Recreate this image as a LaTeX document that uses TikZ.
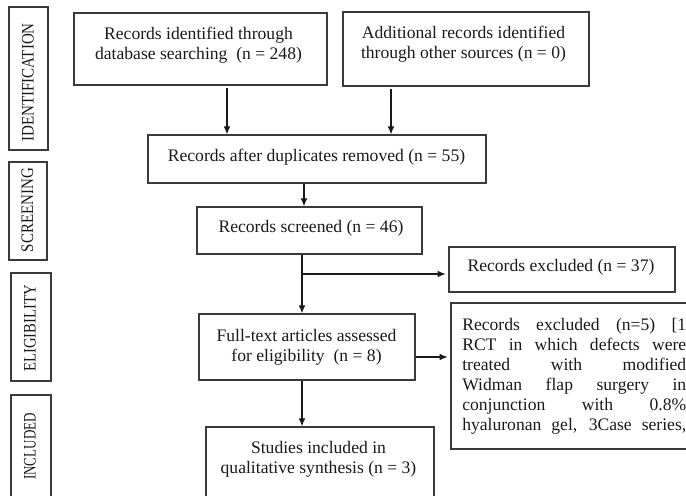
\documentclass[tikz,border=0pt]{standalone}
\usepackage{fontspec}
\setmainfont{Liberation Serif}
\usetikzlibrary{arrows.meta}
\definecolor{edge}{HTML}{3A3A3A}
\definecolor{ink}{HTML}{1A1A1A}
\tikzset{
  box/.style={draw=edge, line width=1pt, inner sep=0pt},
  txt/.style={align=center, inner sep=0pt, text=ink, font=\fontsize{13.2}{15}\selectfont},
  lbl/.style={rotate=90, inner sep=0pt, text=ink, font=\fontsize{13.2}{15}\selectfont},
  arr/.style={draw=ink, line width=0.8pt, -{Latex[length=6pt,width=5pt]}}
}
\newcommand\sq[2]{\resizebox{#1}{\height}{#2}}
\begin{document}
\begin{tikzpicture}[x=0.75pt,y=-0.75pt]
\useasboundingbox (0,0) rectangle (686,496);
\clip (0,0) rectangle (686,496);
% phase labels
\node[box, minimum width={39*0.75pt}, minimum height={143*0.75pt}] (L1) at (28.5,78.5) {};
\node[box, minimum width={38*0.75pt}, minimum height={98*0.75pt}] (L2) at (28,211) {};
\node[box, minimum width={40*0.75pt}, minimum height={108*0.75pt}] (L3) at (31,327) {};
\node[box, minimum width={40*0.75pt}, minimum height={105*0.75pt}] (L4) at (31,447.5) {};
\node[lbl] (L1t) at (28,82.5) {\sq{89pt}{IDENTIFICATION}};
\node[lbl] (L2t) at (27.5,210) {\sq{63pt}{SCREENING}};
\node[lbl] (L3t) at (30,328.5) {\sq{65pt}{ELIGIBILITY}};
\node[lbl] (L4t) at (30,446.5) {\sq{50pt}{INCLUDED}};
% boxes
\node[box, minimum width={253*0.75pt}, minimum height={72*0.75pt}] (b1) at (200.5,49) {};
\node[box, minimum width={246*0.75pt}, minimum height={74*0.75pt}] (b2) at (466,49) {};
\node[box, minimum width={338*0.75pt}, minimum height={48*0.75pt}] (dup) at (317,159) {};
\node[box, minimum width={225*0.75pt}, minimum height={47*0.75pt}] (scr) at (309.5,230.5) {};
\node[box, minimum width={226*0.75pt}, minimum height={45*0.75pt}] (ex37) at (562,269.5) {};
\node[box, minimum width={216*0.75pt}, minimum height={66*0.75pt}] (ft) at (307,347) {};
\node[box, minimum width={246*0.75pt}, minimum height={146*0.75pt}] (ex5) at (574,376) {};
\node[box, minimum width={228*0.75pt}, minimum height={73*0.75pt}] (inc) at (320,463.5) {};
% texts
\node[txt] (b1t) at (198.5,45) {Records identified through\\database searching~~(n = 248)};
\node[txt] (b2t) at (463.5,44.5) {Additional records identified\\through other sources (n = 0)};
\node[txt] (dupt) at (316.5,157) {Records after duplicates removed (n = 55)};
\node[txt] (scrt) at (311,228) {Records screened (n = 46)};
\node[txt] (ex37t) at (561,267) {Records excluded (n = 37)};
\node[txt] (ftt) at (306.5,347.5) {Full-text articles assessed\\for eligibility~~(n = 8)};
\node[txt] (inct) at (318.5,459) {Studies included in\\qualitative synthesis (n = 3)};
\node[anchor=north west, inner sep=0pt, text width=168pt, align=justify, text=ink,
      font=\fontsize{13.2}{15}\selectfont] (ex5t) at (462,318)
 {\leftskip=0pt\rightskip=0pt\parfillskip=0pt\hyphenpenalty=10000\relax
  Records excluded (n=5) [1\linebreak
  RCT in which defects were\linebreak
  treated with modified\linebreak
  Widman flap surgery in\linebreak
  conjunction with 0.8\%\linebreak
  hyaluronan gel, 3Case series,\par};
% connector positions
\coordinate (xa) at (227,0);
\coordinate (xb) at (391,0);
\coordinate (xc) at (304,0);
\coordinate (sp) at (302,0);
\coordinate (br) at (302,274);
\coordinate (r5) at (0,357);
% connectors
\draw[arr, shorten <=2pt] (b1.south -| xa) -- (dup.north -| xa);
\draw[arr, shorten <=1.5pt] (b2.south -| xb) -- (dup.north -| xb);
\draw[arr] (dup.south -| xc) -- (scr.north -| xc);
\draw[arr] (scr.south -| sp) -- (ft.north -| sp);
\draw[arr, shorten >=2pt] (br) -- (ex37.west |- br);
\draw[arr, shorten >=2pt] (ft.east |- r5) -- (ex5.west |- r5);
\draw[arr] (ft.south -| sp) -- (inc.north -| sp);
\end{tikzpicture}
\end{document}
